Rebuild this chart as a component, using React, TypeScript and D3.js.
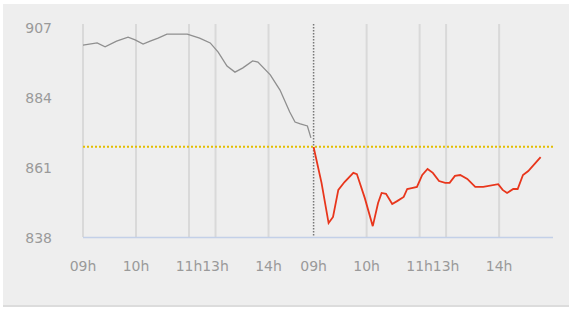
import { useEffect, useRef } from 'react';
import * as d3 from 'd3';

// two trading days on one index axis (minutes of trading, day 2 starts at 261)
const dayStart = [0, 261];
const tickPos = [0, 60, 120, 150, 210, 261, 321, 381, 411, 471];
const tickLabels = ['09h', '10h', '11h', '13h', '14h', '09h', '10h', '11h', '13h', '14h'];
const yTicks = [838, 861, 884, 907];
const prevClose = 868;

const day1T = [0, 16, 25, 38, 51, 59, 68, 76, 85, 95, 118, 132, 144, 153, 163, 172, 181, 192, 198, 212, 223, 234, 240, 246, 254, 258];
const day1V = [901.4, 902.1, 900.8, 902.7, 904.0, 903.1, 901.7, 902.7, 903.7, 905.0, 905.0, 903.7, 902.1, 899.1, 894.5, 892.5, 893.9, 896.2, 895.8, 891.6, 886.6, 879.4, 876.1, 875.5, 874.8, 870.9];

const day2T = [261, 270, 278, 283, 289, 296, 306, 310, 319, 328, 334, 338, 343, 350, 356, 363, 367, 372, 378, 384, 390, 396, 403, 410, 415, 421, 427, 435, 444, 453, 470, 475, 480, 487, 492, 498, 504, 518];
const day2V = [867.9, 856.1, 842.9, 844.9, 853.8, 856.4, 859.4, 859.0, 851.1, 841.9, 849.5, 852.8, 852.5, 849.2, 850.2, 851.5, 854.1, 854.4, 854.8, 858.7, 860.7, 859.4, 856.7, 856.1, 856.1, 858.4, 858.7, 857.4, 854.8, 854.8, 855.7, 853.8, 852.8, 854.1, 854.1, 858.7, 860.0, 864.6];

export default function App() {
  const ref = useRef<SVGSVGElement>(null);

  useEffect(() => {
    const svg = d3.select(ref.current);
    svg.selectAll('*').remove();

    const x = d3.scaleLinear().domain([0, 532]).range([83, 553]);
    const y = d3.scaleLinear().domain([838, 907]).range([238, 28]);
    const top = 24;
    const bottom = 237;

    // panel
    svg.append('rect').attr('x', 3).attr('y', 4).attr('width', 566).attr('height', 303).attr('fill', '#dcdcdc');
    svg.append('rect').attr('x', 3).attr('y', 4).attr('width', 566).attr('height', 301).attr('fill', '#eeeeee');

    // vertical grid
    svg.append('g')
      .selectAll('line')
      .data(tickPos.filter(t => t !== dayStart[1]))
      .join('line')
      .attr('x1', d => x(d)).attr('x2', d => x(d))
      .attr('y1', top).attr('y2', bottom)
      .attr('stroke', '#d9d9d9')
      .attr('stroke-width', 2);

    // day separator
    svg.append('line')
      .attr('x1', x(dayStart[1])).attr('x2', x(dayStart[1]))
      .attr('y1', top).attr('y2', bottom)
      .attr('stroke', '#777')
      .attr('stroke-width', 1.5)
      .attr('stroke-dasharray', '1.5 1.5');

    // bottom axis line
    svg.append('line')
      .attr('x1', x(0)).attr('x2', x(532))
      .attr('y1', bottom + 0.5).attr('y2', bottom + 0.5)
      .attr('stroke', '#c3d0e8')
      .attr('stroke-width', 1.5);

    // previous close
    svg.append('line')
      .attr('x1', x(0)).attr('x2', x(532))
      .attr('y1', y(prevClose)).attr('y2', y(prevClose))
      .attr('stroke', '#e3bf00')
      .attr('stroke-width', 2)
      .attr('stroke-dasharray', '2 2');

    const line = d3.line<[number, number]>()
      .x(d => x(d[0]))
      .y(d => y(d[1]));

    svg.append('path')
      .datum(day1T.map((t, i) => [t, day1V[i]] as [number, number]))
      .attr('d', line)
      .attr('fill', 'none')
      .attr('stroke', '#8f8f8f')
      .attr('stroke-width', 1.3);

    svg.append('path')
      .datum(day2T.map((t, i) => [t, day2V[i]] as [number, number]))
      .attr('d', line)
      .attr('fill', 'none')
      .attr('stroke', '#e8361c')
      .attr('stroke-width', 1.8);

    // y labels
    svg.append('g')
      .selectAll('text')
      .data(yTicks)
      .join('text')
      .attr('x', 52)
      .attr('y', d => y(d) + 5)
      .attr('text-anchor', 'end')
      .attr('font-family', 'DejaVu Sans')
      .attr('font-size', 14)
      .attr('fill', '#9a9a9a')
      .text(d => d);

    // x labels
    svg.append('g')
      .selectAll('text')
      .data(tickPos)
      .join('text')
      .attr('x', d => x(d))
      .attr('y', 271)
      .attr('text-anchor', 'middle')
      .attr('font-family', 'DejaVu Sans')
      .attr('font-size', 14)
      .attr('fill', '#9a9a9a')
      .text((d, i) => tickLabels[i]);
  }, []);

  return (
    <svg
      ref={ref}
      width={569}
      height={309}
      style={{ position: 'absolute', left: 0, top: 0, display: 'block', background: '#fff' }}
    />
  );
}
